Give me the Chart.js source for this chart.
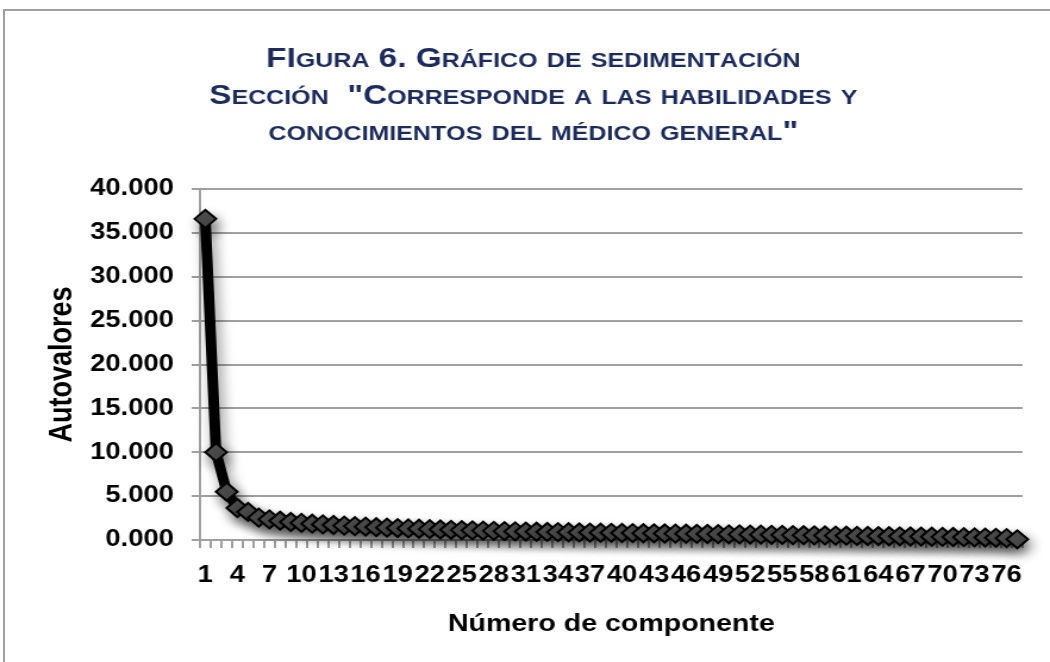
<!DOCTYPE html>
<html>
<head>
<meta charset="utf-8">
<script src="https://cdn.jsdelivr.net/npm/chart.js@4"></script>
<style>
  html, body { margin: 0; padding: 0; background: #fff; overflow: hidden; }
  #frame { position: absolute; left: 3px; top: 9px; width: 1100px; height: 700px; border: 2px solid #a0a0a0; box-sizing: border-box; }
  #c { position: absolute; left: 0; top: 0; }
</style>
</head>
<body>
<div id="frame"></div>
<!-- drawn narrower and stretched, the source picture is widened horizontally -->
<canvas id="c" width="882" height="662" style="width:1050px;height:662px"></canvas>
<script>
const componentes = [1, 2, 3, 4, 5, 6, 7, 8, 9, 10, 11, 12, 13, 14, 15, 16, 17, 18, 19, 20,
  21, 22, 23, 24, 25, 26, 27, 28, 29, 30, 31, 32, 33, 34, 35, 36, 37, 38, 39, 40,
  41, 42, 43, 44, 45, 46, 47, 48, 49, 50, 51, 52, 53, 54, 55, 56, 57, 58, 59, 60,
  61, 62, 63, 64, 65, 66, 67, 68, 69, 70, 71, 72, 73, 74, 75, 76, 77];

const autovalores = [36.6, 10.0, 5.5, 3.65, 3.2, 2.55, 2.35, 2.2, 2.05, 1.95,
  1.86, 1.78, 1.71, 1.64, 1.58, 1.52, 1.46, 1.41, 1.36, 1.32,
  1.28, 1.24, 1.20, 1.16, 1.13, 1.10, 1.07, 1.04, 1.01, 0.98,
  0.96, 0.94, 0.92, 0.90, 0.88, 0.86, 0.85, 0.83, 0.82, 0.80,
  0.79, 0.77, 0.76, 0.74, 0.73, 0.71, 0.70, 0.68, 0.67, 0.65,
  0.64, 0.62, 0.61, 0.59, 0.58, 0.56, 0.55, 0.53, 0.52, 0.50,
  0.49, 0.47, 0.46, 0.45, 0.43, 0.42, 0.40, 0.39, 0.37, 0.36,
  0.34, 0.32, 0.30, 0.28, 0.25, 0.21, 0.08];

const yTicks = [0, 5, 10, 15, 20, 25, 30, 35, 40];

// lowercase letters are drawn as small caps
const titleLines = [
  'FIgura 6. Gráfico de sedimentación',
  'Sección  "Corresponde a las habilidades y',
  'conocimientos del médico general"'
];

const FONT = '"Liberation Sans", Arial, sans-serif';

const titlePlugin = {
  id: 'smallCapsTitle',
  afterDraw(chart) {
    const ctx = chart.ctx;
    const big = 'bold 28px ' + FONT;
    const small = 'bold 21px ' + FONT;
    const baselines = [67, 104, 140];
    const cx = 448;
    ctx.save();
    ctx.fillStyle = '#1c2b5a';
    ctx.textAlign = 'left';
    ctx.textBaseline = 'alphabetic';
    titleLines.forEach((line, i) => {
      const parts = [...line].map(ch => ({
        t: ch.toUpperCase(),
        f: ch !== ch.toUpperCase() ? small : big
      }));
      let w = 0;
      parts.forEach(p => { ctx.font = p.f; p.w = ctx.measureText(p.t).width; w += p.w; });
      let x = cx - w / 2;
      parts.forEach(p => { ctx.font = p.f; ctx.fillText(p.t, x, baselines[i]); x += p.w; });
    });
    ctx.restore();
  }
};

const shadowPlugin = {
  id: 'lineShadow',
  beforeDatasetsDraw(chart) {
    const ctx = chart.ctx;
    ctx.save();
    ctx.shadowColor = 'rgba(0,0,0,0.45)';
    ctx.shadowBlur = 12;
    ctx.shadowOffsetX = 3;
    ctx.shadowOffsetY = 6;
  },
  afterDatasetsDraw(chart) {
    chart.ctx.restore();
  }
};

new Chart(document.getElementById('c'), {
  type: 'line',
  data: {
    labels: componentes,
    datasets: [{
      data: autovalores,
      borderColor: '#000',
      borderWidth: 9,
      pointStyle: 'rectRot',
      pointRadius: 9,
      pointBackgroundColor: '#4f4f4f',
      pointBorderColor: '#000',
      pointBorderWidth: 2,
      tension: 0,
      clip: false
    }]
  },
  options: {
    responsive: false,
    animation: false,
    devicePixelRatio: 1,
    layout: { padding: { top: 189, right: 23, bottom: 0, left: 0 } },
    plugins: {
      legend: { display: false },
      title: { display: false },
      tooltip: { enabled: false }
    },
    scales: {
      x: {
        offset: true,
        grid: { offset: true, drawOnChartArea: false, drawTicks: true, tickLength: 8, color: '#a0a0a0', lineWidth: 2 },
        border: { color: '#a0a0a0', width: 2 },
        ticks: {
          autoSkip: false,
          maxRotation: 0,
          padding: 14,
          color: '#000',
          font: { family: FONT, weight: 'bold', size: 23 },
          callback(v, i) { return i % 3 === 0 ? this.getLabelForValue(v) : ''; }
        },
        title: {
          display: true,
          text: 'Número de componente',
          color: '#000',
          font: { family: FONT, weight: 'bold', size: 24 },
          padding: { top: 0, bottom: 23 }
        },
        afterFit(s) { s.height = 122; }
      },
      y: {
        min: 0,
        max: 40,
        afterBuildTicks(s) { s.ticks = yTicks.map(v => ({ value: v })); },
        ticks: {
          padding: 15,
          color: '#000',
          font: { family: FONT, weight: 'bold', size: 23 },
          callback: v => v.toFixed(3)
        },
        grid: { color: '#a0a0a0', lineWidth: 2, tickLength: 7 },
        border: { color: '#a0a0a0', width: 2 },
        title: {
          display: true,
          text: 'Autovalores',
          color: '#000',
          font: { family: FONT, weight: 'bold', size: 27 },
          padding: { top: 36, bottom: 0 }
        },
        afterFit(s) { s.width = 168; }
      }
    }
  },
  plugins: [shadowPlugin, titlePlugin]
});
</script>
</body>
</html>
